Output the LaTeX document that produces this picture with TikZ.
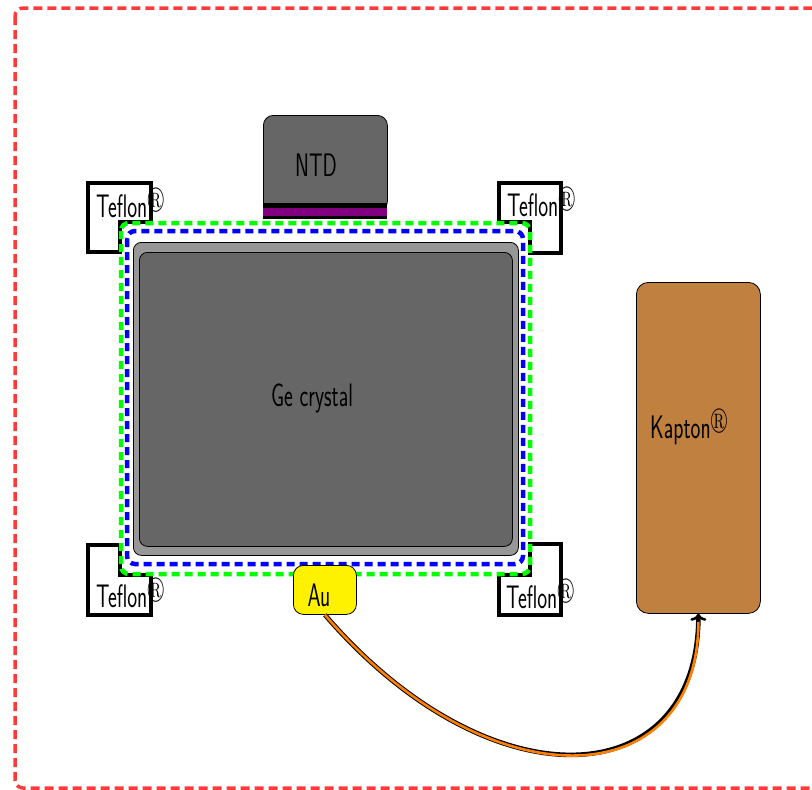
\documentclass[tikz,border=0pt]{standalone}
\usepackage{amssymb}
\usepackage{graphicx}
\usetikzlibrary{arrows.meta,calc}
\definecolor{crysdark}{HTML}{666666}
\definecolor{crysedge}{HTML}{979797}
\definecolor{kaptonc}{HTML}{C08040}
\definecolor{borderred}{HTML}{FF3A3A}
\definecolor{ntdpurple}{HTML}{800080}
\definecolor{wireorange}{HTML}{FF8000}
\newcommand\stretchtxt[1]{\scalebox{1}[1.55]{#1}}
\newcommand\regmark{\raisebox{6pt}{\scalebox{0.85}{$\circledR$}}}
\tikzset{
  lbl/.style={font=\fontsize{21}{25}\selectfont\sffamily, inner sep=0pt},
  teflonshape/.style={draw=black, fill=white, line width=4pt, line join=miter},
  blockbox/.style={draw=black, line width=0.8pt, rounded corners=10pt, inner sep=0pt, anchor=north west},
}
\begin{document}
\begin{tikzpicture}[x=1pt,y=-1pt]
\useasboundingbox (0,0) rectangle (812,790);
\clip (0,0) rectangle (812,790);
% outer border
\draw[borderred, line width=3.5pt, dash pattern=on 9pt off 5pt, rounded corners=8pt] (15,8) rectangle (840,788);
% Teflon pieces
\draw[teflonshape] (88,183) -- (151,183) -- (151,222) -- (120,222) -- (120,252) -- (88,252) -- cycle;
\draw[teflonshape] (499,183) -- (561,183) -- (561,253) -- (530,253) -- (530,222) -- (499,222) -- cycle;
\draw[teflonshape] (88,545) -- (120,545) -- (120,575) -- (151,575) -- (151,615) -- (88,615) -- cycle;
\draw[teflonshape] (530,544) -- (561,544) -- (561,615) -- (499,615) -- (499,575) -- (530,575) -- cycle;
\node[lbl, anchor=base west] (tefTL) at (96,217) {\stretchtxt{Teflon\regmark}};
\node[lbl, anchor=base west] (tefTR) at (507,216) {\stretchtxt{Teflon\regmark}};
\node[lbl, anchor=base west] (tefBL) at (96,607) {\stretchtxt{Teflon\regmark}};
\node[lbl, anchor=base west] (tefBR) at (506,608) {\stretchtxt{Teflon\regmark}};
% NTD
\node[blockbox, fill=crysdark, minimum width=124pt, minimum height=96pt] (ntd) at (263,115) {};
\fill[black] (263,203) rectangle (387,219);
\fill[ntdpurple] (263,207.5) rectangle (387,215.5);
\node[lbl] (ntdtxt) at (316,165) {\stretchtxt{NTD}};
% holder dashed lines
\draw[green, line width=4.5pt, dash pattern=on 8pt off 5pt, rounded corners=8pt] (121,223) rectangle (530,574);
\draw[blue, line width=4.5pt, dash pattern=on 8pt off 5pt, rounded corners=8pt] (127,231) rectangle (523,564);
% crystal
\node[blockbox, fill=crysedge, rounded corners=8pt, minimum width=385pt, minimum height=313pt] (crysout) at (133,242) {};
\node[blockbox, fill=crysdark, rounded corners=8pt, minimum width=373pt, minimum height=294pt] (crys) at (139,252) {};
\node[lbl] (crystxt) at (312,398) {\stretchtxt{Ge crystal}};
% Au
\node[blockbox, fill=yellow, minimum width=63pt, minimum height=49pt] (au) at (293,565) {};
\node[lbl] (autxt) at (319,595) {\stretchtxt{Au}};
% Kapton
\node[blockbox, fill=kaptonc, rounded corners=12pt, minimum width=124pt, minimum height=331pt] (kap) at (636,282) {};
\node[lbl, anchor=base west] (kaptxt) at (650,438) {\stretchtxt{Kapton\regmark}};
% wire
\draw[black, line width=4.6pt, -{To[length=7pt,width=16pt,line width=2.5pt]}] (au.south) .. controls +(165,192) and +(0,182) .. (kap.south);
\draw[wireorange, line width=2.6pt, shorten >=8pt] (au.south) .. controls +(165,192) and +(0,182) .. (kap.south);
\end{tikzpicture}
\end{document}
